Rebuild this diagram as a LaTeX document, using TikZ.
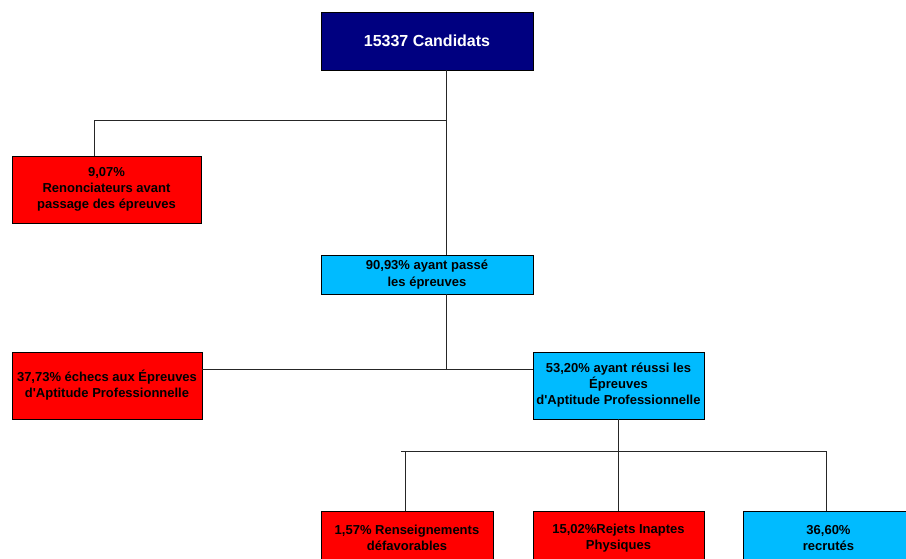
\documentclass[tikz,border=0pt]{standalone}
\usepackage{fontspec}
\setmainfont{Liberation Sans}
\newfontfamily\boxfont{Liberation Sans}
\definecolor{navybox}{RGB}{0,0,128}
\definecolor{redbox}{RGB}{255,0,0}
\definecolor{cyanbox}{RGB}{0,187,255}
\tikzset{
  box/.style={draw=black, line width=0.8pt, align=center, inner sep=1pt,
    font=\boxfont\fontsize{13}{16}\selectfont\bfseries, text=black},
  redb/.style={box, fill=redbox},
  cyanb/.style={box, fill=cyanbox},
  conn/.style={draw=black!85, line width=0.9pt}
}
\begin{document}
\begin{tikzpicture}[x=1pt,y=-1pt]
\useasboundingbox (0,0) rectangle (906,558);
\clip (0,0) rectangle (906,558);
% boxes
\node[box, fill=navybox, text=white, font=\boxfont\fontsize{16}{19}\selectfont\bfseries,
  minimum width=212pt, minimum height=58pt] (top) at (427,41) {15337 Candidats};
\node[redb, minimum width=189pt, minimum height=67pt] (r1) at (106.5,189.5)
  {9,07\%\\Renonciateurs avant\\passage des épreuves};
\node[cyanb, minimum width=212pt, minimum height=39pt] (p) at (427,274.5)
  {\raisebox{-1.5pt}{\shortstack{90,93\% ayant passé\\[1pt]les épreuves}}};
\node[redb, minimum width=190pt, minimum height=67pt] (e) at (107,385.5)
  {\raisebox{-1.5pt}{\parbox{188pt}{\centering 37,73\% échecs aux Épreuves\\d'Aptitude Professionnelle}}};
\node[cyanb, minimum width=171pt, minimum height=67pt] (s) at (618.5,385.5)
  {\raisebox{-2pt}{\parbox{169pt}{\centering 53,20\% ayant réussi les\\Épreuves\\d'Aptitude Professionnelle}}};
\node[redb, minimum width=172pt, minimum height=54pt] (b1) at (407,538)
  {1,57\% Renseignements\\défavorables};
\node[redb, minimum width=171pt, minimum height=54pt] (b2) at (618.5,538)
  {15,02\%Rejets Inaptes\\Physiques};
\node[cyanb, minimum width=171pt, minimum height=54pt] (b3) at (828.5,538)
  {36,60\%\\recrutés};
% junction coordinates
\coordinate (j1) at (446,120);
\coordinate (j2) at (446,369);
\coordinate (j3) at (618,451);
\coordinate (hl) at (401,451);
\coordinate (hr) at (826,451);
% connectors
\draw[conn] (top.south -| j1) -- (p.north -| j1);
\draw[conn] (j1) -| ([xshift=-12.5pt]r1.north);
\draw[conn] (p.south -| j1) -- (j2);
\draw[conn] (e.east |- j2) -- (s.west |- j2);
\draw[conn] (s.south -| j3) -- (j3);
\draw[conn] (hl) -- (hr);
\draw[conn] ([xshift=-2pt]b1.north) -- ([xshift=-2pt]b1.north |- hl);
\draw[conn] (b2.north -| j3) -- (j3);
\draw[conn] ([xshift=-2.5pt]b3.north) -- ([xshift=-2.5pt]b3.north |- hr);
\end{tikzpicture}
\end{document}
